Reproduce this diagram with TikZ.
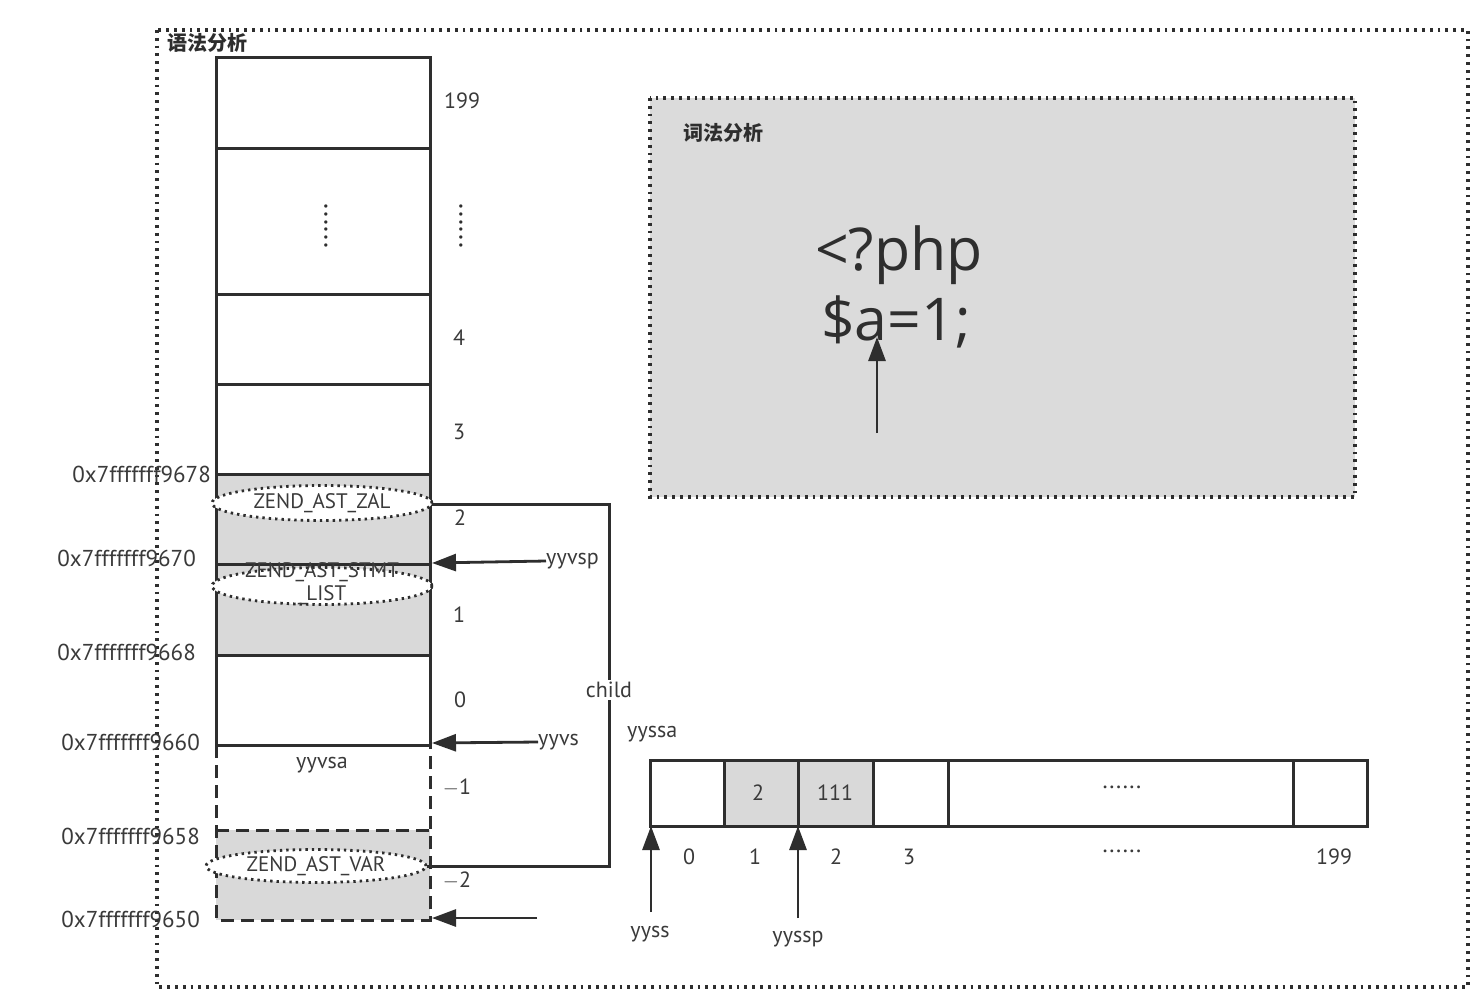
\documentclass[tikz,border=0pt]{standalone}
\usepackage{fontspec}
\setmainfont{PT Sans}
\newfontfamily\cjk{Noto Sans CJK SC}
\newfontfamily\phpfont{Open Sans}
\usetikzlibrary{shapes.geometric,arrows.meta}
\definecolor{ink}{HTML}{2E2E2E}
\definecolor{txt}{HTML}{3A3A3A}
\definecolor{cellgray}{HTML}{D9D9D9}
\begin{document}
\begin{tikzpicture}[x=1pt,y=-1pt,
  every node/.style={text=txt, inner sep=0pt},
  lbl/.style={font=\fontsize{22}{24}\selectfont},
  addr/.style={font=\fontsize{23}{25}\selectfont},
  small/.style={font=\fontsize{21}{23}\selectfont},
  title/.style={font=\cjk\bfseries\fontsize{20}{22}\selectfont, text=ink},
  cellline/.style={draw=ink, line width=3pt},
  dashline/.style={draw=ink, line width=3pt, dash pattern=on 13pt off 7pt},
  dotbox/.style={draw=ink, line width=3.2pt, dash pattern=on 2.8pt off 5pt},
  dotell/.style={ellipse, draw=ink, fill=white, line width=2.8pt, dash pattern=on 2.4pt off 4pt, minimum width=220pt, minimum height=35pt},
  arr/.style={draw=ink, line width=2.8pt, -{Triangle[length=24pt,width=17pt]}},
  vdots/.style={rotate=-90, font=\fontsize{28}{28}\selectfont, text=ink},
]
\useasboundingbox (0,0) rectangle (1482,1002);
\fill[white] (0,0) rectangle (1482,1002);

% outer dotted frame
\draw[dotbox] (157,30) rectangle (1468,987);
\node[title, anchor=west] (syn) at (167,43) {语法分析};

% stack fills
\fill[cellgray] (216,474) rectangle (430,655);
\fill[cellgray] (216,830) rectangle (430,920);
% stack frame
\draw[cellline] (216,57) rectangle (430,745);
\foreach \yy in {148,294,384,474,564,655}
  \draw[cellline] (216,\yy) -- (430,\yy);
\draw[dashline] (216,745) -- (216,920) -- (430,920) -- (430,745);
\draw[dashline] (216,830) -- (430,830);

% vertical ellipses (dots)
\node[vdots] (dotsa) at (326,226) {......};
\node[vdots] (dotsb) at (461,226) {......};

% index labels
\node[lbl] (i199) at (462,101) {199};
\node[lbl] (i4) at (459,338) {4};
\node[lbl] (i3) at (459,432) {3};
\node[lbl] (i2) at (460,518) {2};
\node[lbl] (i1) at (459,615) {1};
\node[lbl] (i0) at (460,700) {0};
\node[lbl] (im1) at (457,788) {$-$1};
\node[lbl] (im2) at (457,881) {$-$2};

% addresses
\node[addr, anchor=east] (a78) at (211,474) {0x7fffffff9678};
\node[addr, anchor=east] (a70) at (196,558) {0x7fffffff9670};
\node[addr, anchor=east] (a68) at (196,652) {0x7fffffff9668};
\node[addr, anchor=east] (a60) at (200,742) {0x7fffffff9660};
\node[addr, anchor=east] (a58) at (200,836) {0x7fffffff9658};
\node[addr, anchor=east] (a50) at (200,919) {0x7fffffff9650};

% ellipses
\node[dotell] (zal) at (322,503) {};
\node[small] at (zal) {ZEND\_AST\_ZAL};
\node[dotell, minimum height=37pt] (stmt) at (322,586) {};
\node[small, align=center, font=\fontsize{21}{23}\selectfont] at (322,584) {ZEND\_AST\_STMT\\\_LIST};
\node[dotell, minimum height=33pt] (var) at (316,866) {};
\node[small] at (var) {ZEND\_AST\_VAR};

\node[lbl] (yyvsa) at (322,765) {yyvsa};

% child bracket
\draw[cellline] (432,504) -- (609,504) -- (609,866) -- (var.east);
\node[lbl, fill=white, inner sep=2pt] (child) at (609,690) {child};

% pointer arrows into stack
\coordinate (vspt) at (432,563);
\coordinate (vst) at (432,743);
\coordinate (bott) at (432,918);
\coordinate (botfree) at (537,918);
\node[lbl, anchor=west] (yyvsp) at (546,561) {yyvsp};
\node[lbl, anchor=west] (yyvs) at (538,742) {yyvs};
\draw[arr] (yyvsp.west) -- (vspt);
\draw[arr] (yyvs.west) -- (vst);
\draw[arr] (botfree) -- (bott);

% lexical analysis box
\fill[cellgray!95!white] (650,98) rectangle (1355,497);
\draw[dotbox] (650,98) rectangle (1355,497);
\node[title, anchor=west] (lex) at (683,133) {词法分析};
\node[anchor=base west, font=\phpfont\fontsize{59}{60}\selectfont, text=ink] (php1) at (815,270) {<?php};
\node[anchor=base west, font=\phpfont\fontsize{59}{60}\selectfont, text=ink] (php2) at (821,340) {\$a=1;};
\coordinate (lexfree) at (877,433);
\coordinate (lexhead) at (877,337);
\draw[arr] (lexfree) -- (lexhead);

% state stack array
\fill[cellgray] (724,760) rectangle (873,826);
\draw[cellline] (650,760) rectangle (1367,826);
\foreach \xx in {724,798,873,948,1293}
  \draw[cellline] (\xx,760) -- (\xx,826);
\node[lbl] (c1) at (758,793) {2};
\node[lbl] (c2) at (835,793) {111};
\node[lbl, font=\fontsize{24}{24}\selectfont] (cdots) at (1122,787) {......};
\node[lbl, anchor=west] (yyssa) at (627,734) {yyssa};

\node[lbl] (j0) at (689,857) {0};
\node[lbl] (j1) at (755,857) {1};
\node[lbl] (j2) at (836,857) {2};
\node[lbl] (j3) at (909,857) {3};
\node[lbl, font=\fontsize{24}{24}\selectfont] (jdots) at (1122,851) {......};
\node[lbl] (j199) at (1334,857) {199};

\node[lbl] (yyss) at (650,934) {yyss};
\node[lbl] (yyssp) at (798,939) {yyssp};
\coordinate (ss0) at (651,826);
\coordinate (ssp) at (798,826);
\coordinate (yyssfree) at (651,912);
\coordinate (yysspfree) at (798,918);
\draw[arr] (yyssfree) -- (ss0);
\draw[arr] (yysspfree) -- (ssp);
\end{tikzpicture}
\end{document}
